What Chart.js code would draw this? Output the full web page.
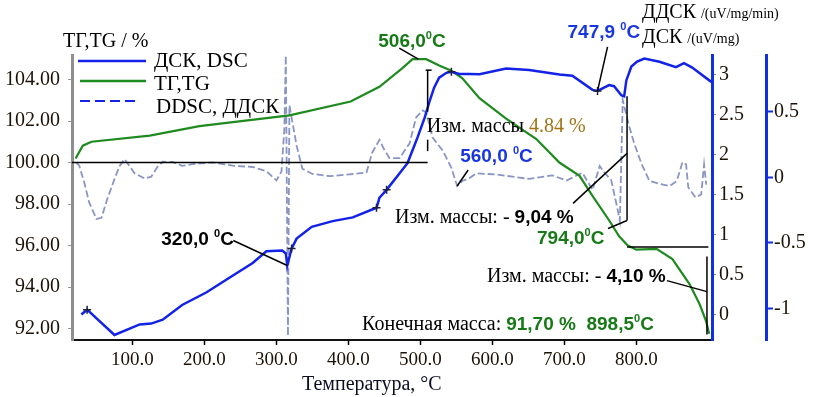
<!DOCTYPE html>
<html><head><meta charset="utf-8">
<script src="https://cdn.jsdelivr.net/npm/chart.js@4.4.0/dist/chart.umd.min.js"></script>
<style>html,body{margin:0;padding:0;background:#fff;overflow:hidden}canvas{display:block}</style>
</head><body>
<canvas id="c" width="813" height="397"></canvas>
<script>
// ---------- data ----------
const tgTemp = [21,31,43,124,193,318,403,443,475,489,508,526,543,558,582,619,661,693,721,739,762,776,788,800,828,850,874,888,897,901];
const tgMass = [100.19,100.81,101.0,101.3,101.75,102.27,102.94,103.65,104.55,104.98,104.98,104.67,104.42,104.07,103.1,102.11,101.13,100.0,99.36,98.39,97.22,96.45,96.0,95.8,95.84,95.35,94.13,93.16,92.34,91.75];

const dscTemp = [29,37,75,110,126,142,169,203,239,267,286,308,313,315,321,328,349,378,406,439,443,453,482,489,496,506,513,519,526,536,543,554,568,582,619,651,693,711,739,746,762,769,779,783,786,793,801,811,832,855,866,877,904];
const dscVal  = [0.0,0.06,-0.256,-0.124,-0.114,-0.065,0.119,0.278,0.485,0.644,0.791,0.80,0.763,0.612,0.824,0.949,1.096,1.167,1.214,1.334,1.459,1.558,1.891,2.053,2.214,2.463,2.675,2.836,2.96,3.021,3.034,3.006,3.005,3.004,3.074,3.056,3.001,2.986,2.808,2.795,2.868,2.854,2.74,2.727,2.926,3.1,3.161,3.199,3.159,3.093,3.141,3.09,2.908];
const dscMarkTemps = [37,321,439,453,543,746];

const ddscTemp = [22,26,33,40,50,57,65,75,82,89,93,103,117,126,135,142,156,169,183,211,239,267,286,300,307,311,313,316,318,328,336,350,374,401,425,433,443,450,457,471,485,494,503,508,517,531,543,551,558,568,578,606,628,651,683,703,725,739,749,756,765,772,777,781,790,797,807,818,832,846,856,864,869,872,882,890,894,897];
const ddscVal  = [0.113,0.09,-0.04,-0.194,-0.317,-0.309,-0.165,-0.014,0.085,0.139,0.108,0.031,-0.009,0.005,0.082,0.119,0.118,0.087,0.101,0.114,0.089,0.079,0.047,-0.023,0.045,0.373,0.93,-1.21,0.55,0.242,0.066,0.026,0.009,0.022,0.036,0.188,0.286,0.209,0.147,0.147,0.26,0.458,0.511,0.495,0.303,0.203,0.072,-0.066,-0.028,-0.006,0.031,0.021,0.005,-0.012,0.015,-0.024,0.035,-0.096,0.086,0.033,-0.021,-0.198,-0.33,0.59,0.389,0.258,0.105,-0.026,-0.05,-0.066,-0.029,0.116,0.1,-0.076,-0.153,-0.131,0.098,-0.056];

const xTicks = [100,200,300,400,500,600,700,800];
const tgTicks = [92,94,96,98,100,102,104];
const dscTicks = [0,0.5,1,1.5,2,2.5,3];
const ddscTicks = [-1,-0.5,0,0.5];

// mass-step markers (temperature, top %, bottom %)
const stepT = [510, 787, 898];
const stepTop = [104.45, 103.19, 95.47];
const stepBottom = [102.45, 97.21, 91.71];
const baseLine = [16, 510, 100.0];      // from T, to T, at %
const plateauLine = [787, 900, 95.93];  // from T, to T, at %

// ---------- styles ----------
const SERIF = '"Liberation Serif","Times New Roman",serif';
const SANS = '"Liberation Sans",Arial,sans-serif';
const BLUE = '#1222e6', GREEN = '#1f8a1f', GRAY = '#8a95c4';
const GREEN_T = '#177a17', BLUE_T = '#1a36e0', LABEL = '#1c1208';

const pts = (xs, ys) => xs.slice(0, Math.min(xs.length, ys.length)).map((x, i) => ({x, y: ys[i]}));

function deg(color){
  return [{t:'0', f:'bold 11px '+SANS, c:color, rise:8}, {t:'C', f:'bold 19px '+SANS, c:color}];
}
function rich(ctx, x, y, parts){
  ctx.textBaseline = 'alphabetic'; ctx.textAlign = 'left';
  for (const p of parts){
    ctx.font = p.f; ctx.fillStyle = p.c;
    ctx.fillText(p.t, x, y - (p.rise || 0));
    x += ctx.measureText(p.t).width;
  }
}
const B19 = 'bold 19px ' + SANS, S20 = '20px ' + SERIF;

// annotations: anchor in data space, text offset (dx,dy), leader start offset (lx,ly)
const notes = [
  {axis:'y',  t:497, v:104.98, dx:-40, dy:-12, lx:-19, ly:-11, parts:[{t:'506,0', f:B19, c:GREEN_T}, ...deg(GREEN_T)]},
  {axis:'y1', t:746, v:2.795, dx:-30, dy:-53, lx:10, ly:-44, parts:[{t:'747,9 ', f:B19, c:BLUE_T}, ...deg(BLUE_T)]},
  {axis:'y2', t:551, v:-0.066, dx:3, dy:-24, lx:11, ly:-16, parts:[{t:'560,0 ', f:B19, c:BLUE_T}, ...deg(BLUE_T)]},
  {axis:'y1', t:315, v:0.612, dx:-126, dy:-21, lx:-54, ly:-25, parts:[{t:'320,0 ', f:B19, c:'#000'}, ...deg('#000')]},
  {axis:'y',  t:787, v:97.21, dx:-90, dy:24, lx:-19, ly:8, parts:[{t:'794,0', f:B19, c:GREEN_T}, ...deg(GREEN_T)]},
  {axis:'y',  t:510, v:104.45, dx:-1, dy:62, parts:[{t:'Изм. массы ', f:S20, c:'#000'}, {t:'4.84 %', f:S20, c:'#a07418'}]},
  {axis:'y',  t:787, v:100.44, dx:-232, dy:70, lx:-54, ly:50, parts:[{t:'Изм. массы: - ', f:S20, c:'#000'}, {t:'9,04 %', f:B19, c:'#000'}]},
  {axis:'y',  t:898, v:93.78, dx:-220, dy:-10, lx:-40, ly:-11, parts:[{t:'Изм. массы: - ', f:S20, c:'#000'}, {t:'4,10 %', f:B19, c:'#000'}]},
  {axis:'y',  t:901, v:91.75, dx:-347, dy:-4, parts:[{t:'Конечная масса: ', f:S20, c:'#000'}, {t:'91,70 %  898,5', f:B19, c:GREEN_T}, ...deg(GREEN_T)]}
];

const annot = {
  id:'annot',
  afterDatasetsDraw(chart){
    const ctx = chart.ctx, X = chart.scales.x;
    const P = (axis, t, v) => ({x: X.getPixelForValue(t), y: chart.scales[axis].getPixelForValue(v)});
    const seg = (a, b) => { ctx.beginPath(); ctx.moveTo(a.x, a.y); ctx.lineTo(b.x, b.y); ctx.stroke(); };
    ctx.save();
    ctx.strokeStyle = '#000'; ctx.lineWidth = 1.5;
    seg(P('y', baseLine[0], baseLine[2]), P('y', baseLine[1], baseLine[2]));
    seg(P('y', plateauLine[0], plateauLine[2]), P('y', plateauLine[1], plateauLine[2]));
    for (let i = 0; i < stepT.length; i++) seg(P('y', stepT[i], stepTop[i]), P('y', stepT[i], stepBottom[i]));
    seg(P('y', stepT[0], 101.1), P('y', stepT[0], 100.55));
    const top0 = P('y', stepT[0], stepTop[0]);
    seg({x: top0.x - 2, y: top0.y}, {x: top0.x + 4, y: top0.y});
    for (const n of notes){
      const a = P(n.axis, n.t, n.v);
      if (n.lx !== undefined){ ctx.strokeStyle = '#000'; ctx.lineWidth = 1.5; seg({x: a.x + n.lx, y: a.y + n.ly}, a); }
      rich(ctx, a.x + n.dx, a.y + n.dy, n.parts);
    }
    ctx.restore();
  },
  afterDraw(chart){
    const ctx = chart.ctx;
    ctx.save();
    const ds = chart.data.datasets;
    const leg = [[78,146,61,154,67],[80,146,81,154,90],[80,140,101,156,113]];
    leg.forEach((L, i) => {
      ctx.beginPath(); ctx.setLineDash(i === 2 ? [10,5] : []);
      ctx.strokeStyle = i === 2 ? BLUE : ds[i].borderColor; ctx.lineWidth = i === 2 ? 2 : 2.5;
      ctx.moveTo(L[0], L[2]); ctx.lineTo(L[1], L[2]); ctx.stroke();
      ctx.setLineDash([]);
      rich(ctx, L[3], L[4], [{t: ds[i].label, f:'21px ' + SERIF, c:'#000'}]);
    });
    rich(ctx, 63, 47, [{t:'ТГ,TG / %', f:'20px ' + SERIF, c:'#000'}]);
    rich(ctx, 642, 18, [{t:'ДДСК ', f:'20px ' + SERIF, c:'#000'}, {t:'/(uV/mg/min)', f:'14px ' + SERIF, c:'#000'}]);
    rich(ctx, 642, 43, [{t:'ДСК ', f:'20px ' + SERIF, c:'#000'}, {t:'/(uV/mg)', f:'14px ' + SERIF, c:'#000'}]);
    rich(ctx, 302, 390, [{t:'Температура, °C', f:'20px ' + SERIF, c:'#0c0c22'}]);
    ctx.restore();
  }
};

const setTicks = arr => s => { s.ticks = arr.map(v => ({value: v})); };

new Chart(document.getElementById('c'), {
  type:'line',
  data:{datasets:[
    {label:'ДСК, DSC', data: pts(dscTemp, dscVal), yAxisID:'y1', borderColor: BLUE, borderWidth:2.5, tension:0, fill:false,
     pointStyle:'cross', pointRadius: c => dscMarkTemps.includes(dscTemp[c.dataIndex]) ? 4 : 0,
     pointBorderColor:'#20203a', pointBorderWidth:1.5},
    {label:'ТГ,TG', data: pts(tgTemp, tgMass), yAxisID:'y', borderColor: GREEN, borderWidth:2.2, pointRadius:0, tension:0, fill:false},
    {label:'DDSC, ДДСК', data: pts(ddscTemp, ddscVal), yAxisID:'y2', borderColor: GRAY, borderWidth:1.8, borderDash:[7,3], pointRadius:0, tension:0, fill:false}
  ]},
  options:{
    responsive:false, animation:false, devicePixelRatio:1,
    layout:{padding:{top:55, left:0, right:0, bottom:0}},
    plugins:{legend:{display:false}, tooltip:{enabled:false}},
    scales:{
      x:{type:'linear', position:'bottom', min:16, max:905,
         afterBuildTicks: setTicks(xTicks), afterFit: s => { s.height = 57; },
         ticks:{callback: v => Number(v).toFixed(1), font:{family:SERIF, size:19}, color:LABEL, padding:4, maxRotation:0, autoSkip:false},
         grid:{drawOnChartArea:false, drawTicks:true, tickLength:5, tickColor:'#000', tickWidth:1.5},
         border:{color:'#111', width:2}},
      y:{position:'left', min:91.45, max:105.18,
         afterBuildTicks: setTicks(tgTicks), afterFit: s => { s.width = 72; },
         ticks:{callback: v => Number(v).toFixed(2), font:{family:SERIF, size:20}, color:LABEL, padding:8},
         grid:{drawOnChartArea:false, tickLength:4, tickColor:'#999'},
         border:{color:'#8f8f8f', width:3}},
      y1:{position:'right', weight:0, min:-0.319, max:3.244,
         afterBuildTicks: setTicks(dscTicks), afterFit: s => { s.width = 54; },
         ticks:{callback: v => String(v), font:{family:SERIF, size:20}, color:LABEL, padding:3},
         grid:{drawOnChartArea:false, tickLength:4, tickColor:'#6a8ac0'},
         border:{color:'#1030e0', width:3}},
      y2:{position:'right', weight:1, min:-1.242, max:0.934,
         afterBuildTicks: setTicks(ddscTicks), afterFit: s => { s.width = 47; },
         ticks:{callback: v => String(v), font:{family:SERIF, size:20}, color:LABEL, padding:1},
         grid:{drawOnChartArea:false, tickLength:7, tickColor:'#1030e0', tickWidth:2},
         border:{color:'#1030e0', width:3}}
    }
  },
  plugins:[annot]
});
</script>
</body></html>
